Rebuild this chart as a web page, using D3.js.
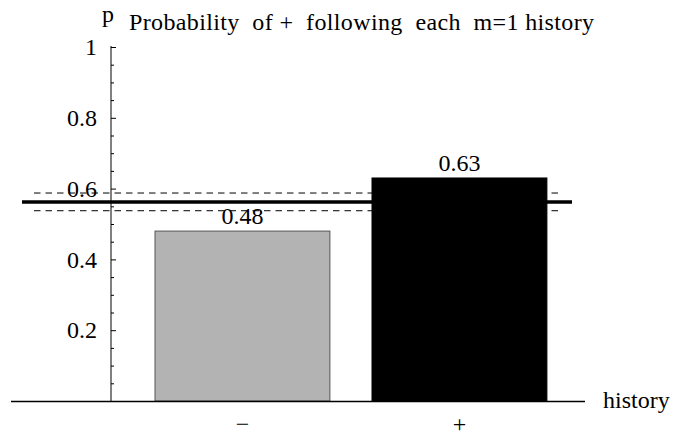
<!DOCTYPE html>
<html>
<head>
<meta charset="utf-8">
<script src="https://cdn.jsdelivr.net/npm/d3@7"></script>
</head>
<body style="margin:0; background:#fff">
<svg id="chart"></svg>
<script>
const width = 673, height = 437;

// data
const histories = ['\u2212', '+'];
const probs = [0.48, 0.63];
const meanP = 0.5625;
const bandP = 0.025;
const majorTicks = [0.2, 0.4, 0.6, 0.8, 1];
const minorTicks = [0.05, 0.1, 0.15, 0.25, 0.3, 0.35, 0.45, 0.5, 0.55, 0.65, 0.7, 0.75, 0.85, 0.9, 0.95];

const fontSize = 24;
const serif = "'Liberation Serif'";
const axisX = 111, axisY = 401;

const svg = d3.select('#chart')
	.attr('width', width)
	.attr('height', height)
	.style('display', 'block')
	.style('font-family', serif);

const x = d3.scaleBand()
	.domain(histories)
	.range([133.3, 568.6])
	.paddingInner(0.194)
	.paddingOuter(0.1);

const y = d3.scaleLinear()
	.domain([0, 1])
	.range([axisY, axisY - 354]);

// y axis: gray spine, ticks pointing inward
svg.append('line')
	.attr('x1', axisX).attr('x2', axisX)
	.attr('y1', y(1) - 1).attr('y2', axisY)
	.attr('stroke', '#808080')
	.attr('stroke-width', 2);

const yAxis = svg.append('g')
	.attr('transform', `translate(${axisX},0)`)
	.call(d3.axisLeft(y)
		.tickValues(majorTicks)
		.tickSize(-5)
		.tickPadding(14)
		.tickFormat(d => String(d)));

svg.append('g')
	.attr('transform', `translate(${axisX},0)`)
	.call(d3.axisLeft(y)
		.tickValues(minorTicks)
		.tickSize(-3)
		.tickFormat(''));

svg.selectAll('.domain').remove();
svg.selectAll('.tick line').attr('stroke', '#000');
yAxis.selectAll('text')
	.attr('font-size', fontSize)
	.attr('fill', '#000');

// mean line with band
const lineX0 = 22, lineX1 = 572;
svg.append('line')
	.attr('x1', lineX0).attr('x2', lineX1)
	.attr('y1', y(meanP)).attr('y2', y(meanP))
	.attr('stroke', '#000')
	.attr('stroke-width', 3.5);

svg.selectAll('.band')
	.data([meanP + bandP, meanP - bandP])
	.enter()
	.append('line')
	.attr('class', 'band')
	.attr('x1', 34).attr('x2', 563)
	.attr('y1', d => y(d)).attr('y2', d => y(d))
	.attr('stroke', '#000')
	.attr('stroke-width', 1)
	.attr('stroke-dasharray', '6.5,5');

// bars
svg.selectAll('.bar')
	.data(probs)
	.enter()
	.append('rect')
	.attr('class', 'bar')
	.attr('x', (d, i) => x(histories[i]))
	.attr('y', d => y(d))
	.attr('width', x.bandwidth())
	.attr('height', d => axisY - y(d))
	.attr('fill', (d, i) => i === 0 ? '#b3b3b3' : '#000')
	.attr('stroke', (d, i) => i === 0 ? '#555' : '#000')
	.attr('stroke-width', 1);

// bar value labels
svg.selectAll('.val')
	.data(probs)
	.enter()
	.append('text')
	.attr('class', 'val')
	.attr('x', (d, i) => x(histories[i]) + x.bandwidth() / 2)
	.attr('y', d => y(d) - 7)
	.attr('text-anchor', 'middle')
	.attr('font-size', fontSize)
	.text(d => d.toFixed(2));

// x axis
svg.append('line')
	.attr('x1', 11).attr('x2', 585)
	.attr('y1', axisY + 0.5).attr('y2', axisY + 0.5)
	.attr('stroke', '#000')
	.attr('stroke-width', 1.5);

const xAxis = svg.append('g')
	.attr('transform', `translate(0,${axisY})`)
	.call(d3.axisBottom(x).tickSize(0).tickPadding(0))
	.call(g => g.select('.domain').remove());

xAxis.selectAll('text')
	.attr('dy', null)
	.attr('y', 31)
	.attr('font-size', fontSize)
	.attr('fill', '#000');

svg.append('text')
	.attr('x', 603)
	.attr('y', 408)
	.attr('font-size', fontSize)
	.text('history');

// y label and title
svg.append('text')
	.attr('x', 102)
	.attr('y', 22)
	.attr('font-size', fontSize)
	.text('p');

svg.append('text')
	.attr('x', 129)
	.attr('y', 30)
	.attr('font-size', fontSize)
	.attr('textLength', 465)
	.attr('lengthAdjust', 'spacing')
	.style('white-space', 'pre')
	.text('Probability  of +  following  each  m=1 history');

svg.selectAll('text').style('font-family', serif);
</script>
</body>
</html>
